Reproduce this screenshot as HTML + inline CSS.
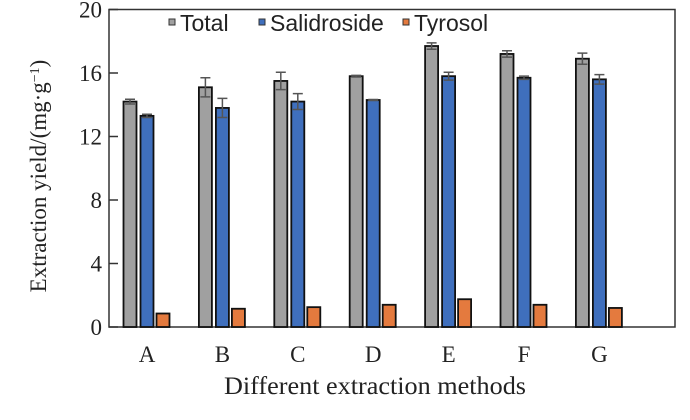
<!DOCTYPE html>
<html><head><meta charset="utf-8"><style>
body{margin:0;background:#fff}
svg text{font-family:"Liberation Serif",serif;fill:#222}
</style></head><body>
<svg width="690" height="415">
</svg>
<script>
const categories=["A","B","C","D","E","F","G"];
const totalVals=[14.2,15.1,15.5,15.8,17.7,17.2,16.9];
const totalErr=[0.15,0.6,0.55,0.05,0.2,0.2,0.35];
const salVals=[13.3,13.8,14.2,14.3,15.8,15.7,15.6];
const salErr=[0.1,0.6,0.5,0.03,0.25,0.1,0.3];
const tyrVals=[0.85,1.15,1.25,1.4,1.75,1.4,1.2];
const tyrErr=[0,0,0,0,0,0,0];
const yTicks=[0,4,8,12,16,20];
const seriesNames=["Total","Salidroside","Tyrosol"];

const NS="http://www.w3.org/2000/svg";
const svg=document.querySelector('svg');
const L=109,R=675,T=9.5,B=327;
const y=v=>B-(v/20)*(B-T);
const xc=i=>147+75.4*i;
function mk(tag,attrs,parent){const e=document.createElementNS(NS,tag);for(const k in attrs)e.setAttribute(k,attrs[k]);(parent||svg).appendChild(e);return e;}

const frame=mk('rect',{x:L,y:T,width:R-L,height:B-T,fill:'none',stroke:'#333','stroke-width':1.5});



yTicks.forEach(t=>{
  const ln=mk('line',{x1:L,x2:L+9,y1:y(t),y2:y(t),stroke:'#333','stroke-width':1.5});
  
  
  const tx=mk('text',{x:L-7,y:y(t)+8,'text-anchor':'end','font-size':23});
  tx.textContent=t;
  
  
});

const series=[[totalVals,totalErr,'#a0a0a0',-17],[salVals,salErr,'#3f6fbd',0],[tyrVals,tyrErr,'#e47a3e',16]];
series.forEach((s,si)=>{
  categories.forEach((c,i)=>{
    const cx=xc(i)+s[3], w=13;
    const r=mk('rect',{x:cx-w/2,y:y(s[0][i]),width:w,height:B-y(s[0][i]),fill:s[2],stroke:'#111','stroke-width':1.8});
    
    
    const e=s[1][i];
    if(e>0){
      const g=mk('path',{d:`M${cx},${y(s[0][i]+e)}V${y(s[0][i]-e)}M${cx-5},${y(s[0][i]+e)}h10M${cx-5},${y(s[0][i]-e)}h10`,stroke:'#555','stroke-width':1.5,fill:'none'});
      
      
    }
  });
});

categories.forEach((c,i)=>{
  const tx=mk('text',{x:xc(i),y:362,'text-anchor':'middle','font-size':23});
  tx.textContent=c;
  
  
});

const legX=[180,270,414],legC=['#a0a0a0','#3f6fbd','#e47a3e'];
seriesNames.forEach((n,i)=>{
  const m=mk('rect',{x:legX[i]-11,y:19,width:6,height:6,fill:legC[i],stroke:'#333','stroke-width':1});
  
  
  const t=mk('text',{x:legX[i],y:31,'font-size':23});
  t.setAttribute('style','font-family:"Liberation Sans",sans-serif');
  t.textContent=n;
  
  
});

const xt=mk('text',{x:224,y:394,'font-size':25,textLength:302,lengthAdjust:'spacingAndGlyphs'});
xt.textContent='Different extraction methods';



const yt=mk('text',{x:0,y:0,'text-anchor':'middle','font-size':23,transform:'translate(46,176) rotate(-90)'});
yt.innerHTML='Extraction yield/(mg·g<tspan baseline-shift="super" font-size="14">−1</tspan>)';


</script>
</body></html>
